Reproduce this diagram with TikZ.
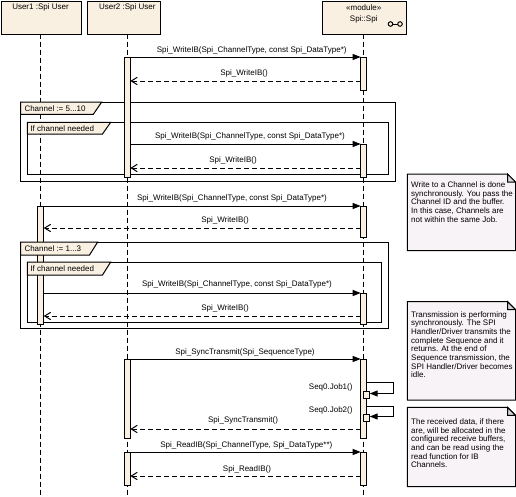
\documentclass[tikz,border=0pt]{standalone}
\usepackage{fontspec}
\setmainfont{Liberation Sans}
\usetikzlibrary{arrows.meta}
\definecolor{headfill}{RGB}{249,240,226}
\definecolor{notefill}{RGB}{247,243,247}
\definecolor{foldfill}{RGB}{212,212,212}
\begin{document}
\begin{tikzpicture}[x=0.75pt,y=-0.75pt,
  font=\fontsize{6pt}{6.5pt}\selectfont,
  line width=0.75pt,
  headbox/.style={draw, fill=headfill, anchor=north west, inner sep=0pt},
  lifeline/.style={draw, dash pattern=on 3.75pt off 2.25pt},
  actbar/.style={draw, fill=headfill},
  framebox/.style={draw},
  tabbox/.style={draw, fill=headfill},
  call/.style={-{Triangle[length=6pt,width=4.5pt]}},
  ret/.style={-{Straight Barb[length=4.5pt,width=5.5pt]}, dash pattern=on 3.75pt off 2.25pt},
  lbl/.style={inner sep=0pt},
  notetext/.style={inner sep=0pt, anchor=north west, align=left}
]
\useasboundingbox (0,0) rectangle (516,496);

% ---------- frames (outlines) ----------
\draw[framebox] (20.7,102) rectangle (395.7,181);
\draw[framebox] (27.3,122.3) rectangle (388,174);
\draw[framebox] (20.7,242) rectangle (388,328.5);
\draw[framebox] (27.3,262) rectangle (381,322.7);

% ---------- lifeline heads ----------
\node[headbox, minimum width=60pt, minimum height=24.75pt] (u1) at (0.5,0.5) {};
\node[lbl] (u1t) at (40.5,7.8) {User1 :Spi User};
\node[headbox, minimum width=54.5pt, minimum height=24.75pt] (u2) at (87.3,0.5) {};
\node[lbl] (u2t) at (127.3,7.8) {User2 :Spi User};
\node[headbox, minimum width=63.2pt, minimum height=24.75pt] (spi) at (321.7,0.5) {};
\node[lbl] (spit1) at (363.7,7.5) {«module»};
\node[lbl] (spit2) at (363.7,19.3) {Spi::Spi};
\draw (390.5,24) circle[radius=1.7pt] (400,24) circle[radius=1.7pt];
\draw (392.8,24) -- (397.7,24);

% ---------- lifelines ----------
\coordinate (u1top) at (40.7,33.5);
\coordinate (u1bot) at (40.7,496);
\coordinate (u2top) at (127.3,33.5);
\coordinate (u2bot) at (127.3,496);
\coordinate (sptop) at (363.7,33.5);
\coordinate (spbot) at (363.7,496);
\draw[lifeline] (u1top) -- (u1bot);
\draw[lifeline] (u2top) -- (u2bot);
\draw[lifeline] (sptop) -- (spbot);

% ---------- activations ----------
\draw[actbar] (124.3,57) rectangle (130.3,177);
\draw[actbar] (360.7,57) rectangle (366.7,90);
\draw[actbar] (360.7,144) rectangle (366.7,177);
\draw[actbar] (37.7,206) rectangle (43.7,324);
\draw[actbar] (360.7,206) rectangle (366.7,237);
\draw[actbar] (360.7,293) rectangle (366.7,324);
\draw[actbar] (124.3,359) rectangle (130.3,438);
\draw[actbar] (360.7,359) rectangle (366.7,438);
\draw[actbar] (363.7,391.5) rectangle (369.7,398.5);
\draw[actbar] (363.7,414.5) rectangle (369.7,421.5);
\draw[actbar] (124.3,452) rectangle (130.3,485);
\draw[actbar] (360.7,452) rectangle (366.7,485);

% ---------- frame tabs ----------
\draw[tabbox] (20.7,102) -- (101.7,102) -- (93.3,114.3) -- (20.7,114.3) -- cycle;
\node[lbl, anchor=west] (f1t) at (24,108.3) {Channel := 5...10};
\draw[tabbox] (27.3,122.3) -- (110.7,122.3) -- (102.5,134) -- (27.3,134) -- cycle;
\node[lbl, anchor=west] (f1it) at (30,128.2) {If channel needed};
\draw[tabbox] (20.7,242) -- (97.7,242) -- (89.5,255) -- (20.7,255) -- cycle;
\node[lbl, anchor=west] (f2t) at (24,248.5) {Channel := 1...3};
\draw[tabbox] (27.3,262) -- (110.7,262) -- (102.5,275) -- (27.3,275) -- cycle;
\node[lbl, anchor=west] (f2it) at (30,268.5) {If channel needed};

% ---------- messages ----------
\coordinate (m1a) at (130.3,57);  \coordinate (m1b) at (360.7,57);
\draw[call] (m1a) -- (m1b);
\node[lbl] (m1l) at (251.7,50) {Spi\_WriteIB(Spi\_ChannelType, const Spi\_DataType*)};
\coordinate (r1a) at (360.7,81);  \coordinate (r1b) at (130.3,81);
\draw[ret] (r1a) -- (r1b);
\node[lbl] (r1l) at (244,73.5) {Spi\_WriteIB()};

\coordinate (m2a) at (130.3,144); \coordinate (m2b) at (360.7,144);
\draw[call] (m2a) -- (m2b);
\node[lbl] (m2l) at (250,136) {Spi\_WriteIB(Spi\_ChannelType, const Spi\_DataType*)};
\coordinate (r2a) at (360.7,168); \coordinate (r2b) at (130.3,168);
\draw[ret] (r2a) -- (r2b);
\node[lbl] (r2l) at (233,160.5) {Spi\_WriteIB()};

\coordinate (m3a) at (43.7,206);  \coordinate (m3b) at (360.7,206);
\draw[call] (m3a) -- (m3b);
\node[lbl] (m3l) at (232,198.5) {Spi\_WriteIB(Spi\_ChannelType, const Spi\_DataType*)};
\coordinate (r3a) at (360.7,228); \coordinate (r3b) at (43.7,228);
\draw[ret] (r3a) -- (r3b);
\node[lbl] (r3l) at (225,220.5) {Spi\_WriteIB()};

\coordinate (m4a) at (43.7,293);  \coordinate (m4b) at (360.7,293);
\draw[call] (m4a) -- (m4b);
\node[lbl] (m4l) at (237,284.5) {Spi\_WriteIB(Spi\_ChannelType, const Spi\_DataType*)};
\coordinate (r4a) at (360.7,316); \coordinate (r4b) at (43.7,316);
\draw[ret] (r4a) -- (r4b);
\node[lbl] (r4l) at (225,308.5) {Spi\_WriteIB()};

\coordinate (m5a) at (130.3,359); \coordinate (m5b) at (360.7,359);
\draw[call] (m5a) -- (m5b);
\node[lbl] (m5l) at (245,352) {Spi\_SyncTransmit(Spi\_SequenceType)};

\coordinate (s1a) at (366.7,382.5); \coordinate (s1b) at (393.3,382.5);
\coordinate (s1c) at (393.3,393.5); \coordinate (s1d) at (369.7,393.5);
\draw[call] (s1a) -- (s1b) -- (s1c) -- (s1d);
\node[lbl, anchor=east] (s1l) at (353,387.5) {Seq0.Job1()};
\coordinate (s2a) at (366.7,406) ; \coordinate (s2b) at (393.3,406);
\coordinate (s2c) at (393.3,416.5); \coordinate (s2d) at (369.7,416.5);
\draw[call] (s2a) -- (s2b) -- (s2c) -- (s2d);
\node[lbl, anchor=east] (s2l) at (353,410.5) {Seq0.Job2()};

\coordinate (r5a) at (360.7,429); \coordinate (r5b) at (130.3,429);
\draw[ret] (r5a) -- (r5b);
\node[lbl] (r5l) at (243,420.5) {Spi\_SyncTransmit()};

\coordinate (m6a) at (130.3,452); \coordinate (m6b) at (360.7,452);
\draw[call] (m6a) -- (m6b);
\node[lbl] (m6l) at (246.3,445.5) {Spi\_ReadIB(Spi\_ChannelType, Spi\_DataType**)};
\coordinate (r6a) at (360.7,476); \coordinate (r6b) at (130.3,476);
\draw[ret] (r6a) -- (r6b);
\node[lbl] (r6l) at (247,469) {Spi\_ReadIB()};

% ---------- notes ----------
\foreach \ya/\yb in {174/250.7, 301.7/400, 407.3/486.7}{
  \draw[fill=notefill] (407.3,\ya) -- (507.5,\ya) -- (515.5,\ya+8) -- (515.5,\yb) -- (407.3,\yb) -- cycle;
  \draw[fill=foldfill] (507.5,\ya) -- (507.5,\ya+8) -- (515.5,\ya+8) -- cycle;
}
\node[notetext] (n1) at (410.7,181.3) {Write to a Channel is done\\synchronously. You pass the\\Channel ID and the buffer.\\In this case, Channels are\\not within the same Job.};
\node[notetext] (n2) at (410.7,310.7) {Transmission is performing\\synchronously. The SPI\\Handler/Driver transmits the\\complete Sequence and it\\returns. At the end of\\Sequence transmission, the\\SPI Handler/Driver becomes\\idle.};
\node[notetext] (n3) at (410.7,418.3) {The received data, if there\\are, will be allocated in the\\configured receive buffers,\\and can be read using the\\read function for IB\\ Channels.};
\end{tikzpicture}
\end{document}
